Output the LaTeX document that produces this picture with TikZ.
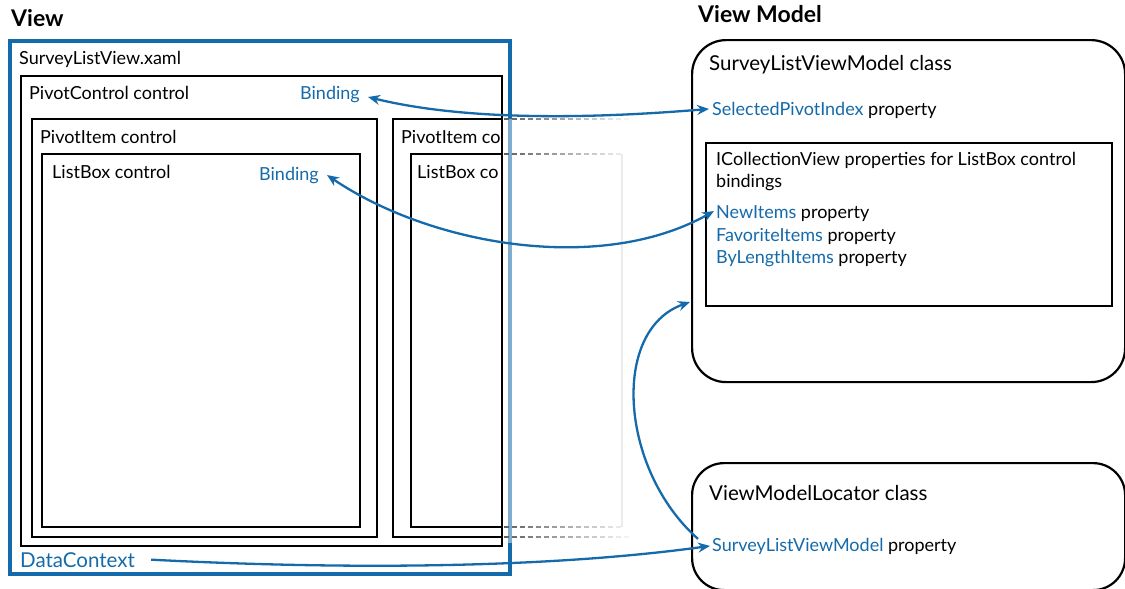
\documentclass[tikz,border=0pt]{standalone}
\usepackage{fontspec}
\setmainfont{Lato}
\usetikzlibrary{arrows.meta}
\definecolor{vblue}{RGB}{20,106,170}
\begin{document}
\begin{tikzpicture}[x=1pt,y=-1pt,
  lbl/.style={anchor=base west, inner sep=0pt, font=\fontsize{18}{21}\selectfont},
  blbl/.style={lbl, text=vblue},
  clbl/.style={lbl, font=\fontsize{20.5}{24}\selectfont},
  ttl/.style={anchor=base west, inner sep=0pt, font=\fontsize{23}{27}\selectfont\bfseries},
  ctl/.style={draw=black, line width=2.5pt},
  vbox/.style={draw=vblue, line width=3.5pt},
  rbox/.style={draw=black, line width=2.2pt, rounded corners=34pt},
  ibox/.style={draw=black, line width=2.2pt},
  arr/.style={draw=vblue, line width=2.3pt},
  tip/.style={-{Stealth[length=12pt,width=10pt,inset=4pt]}},
  bitip/.style={{Stealth[length=12pt,width=10pt,inset=4pt]}-{Stealth[length=12pt,width=10pt,inset=4pt]}},
]
\useasboundingbox (0,0) rectangle (1125,589);

% ---------- View side ----------
\node[ttl] (viewttl) at (11,26) {View};
\draw[vbox] (510,119) -- (510,41) -- (10,41) -- (10,574) -- (510,574) -- (510,543);
\draw[vbox, draw opacity=0.55] (510,119) -- (510,543);

\node[lbl] (xaml) at (19,64) {SurveyListView.xaml};

% PivotControl
\draw[ctl] (21,76) rectangle (502,546);
\node[lbl] (pcl) at (29,99) {PivotControl control};
\node[blbl] (bind1) at (300,99) {Binding};

% PivotItem 1
\draw[ctl] (32,119) rectangle (377,537);
\node[lbl] (pil) at (40,143) {PivotItem control};
% ListBox 1
\draw[ctl] (42,154) rectangle (360,527);
\node[lbl] (lbl1) at (52,178) {ListBox control};
\node[blbl] (bind2) at (259,180) {Binding};

% PivotItem 2 (fading)
\draw[ctl] (502,119) -- (393,119) -- (393,537) -- (502,537);
\draw[ctl] (502,154) -- (411,154) -- (411,527) -- (502,527);
\begin{scope}
  \clip (395,121) rectangle (500,200);
  \node[lbl] (pil2) at (401,143) {PivotItem co};
  \node[lbl] (lbl2) at (417,178) {ListBox co};
\end{scope}
\foreach \i in {0,...,15}{
  \pgfmathsetmacro\c{62-\i*3.8}
  \draw[black!\c, line width=2.2pt] ({504+\i*8},119) -- ++(5,0);
  \draw[black!\c, line width=2.2pt] ({504+\i*8},537) -- ++(5,0);
}
\foreach \i in {0,...,14}{
  \pgfmathsetmacro\c{62-\i*3.8}
  \draw[black!\c, line width=2.2pt] ({504+\i*8},154) -- ++(5,0);
  \draw[black!\c, line width=2.2pt] ({504+\i*8},527) -- ++(5,0);
}
\draw[black!8, line width=1.5pt] (622,154) -- (622,527);

\node[blbl, font=\fontsize{20.5}{24}\selectfont] (dctx) at (20,567) {DataContext};

% ---------- View Model side ----------
\node[ttl] (vmttl) at (698,23) {View Model};
\node[rbox, anchor=north west, minimum width=433pt, minimum height=342pt] (vm) at (691,39) {};
\node[clbl] (vmcls) at (709,70) {SurveyListViewModel class};
\node[lbl] (selidx) at (712,115) {\textcolor{vblue}{SelectedPivotIndex} property};

\node[ibox, anchor=north west, minimum width=406pt, minimum height=163pt] (icv) at (705,142) {};
\node[lbl] (icvl1) at (716,165) {ICollectionView properties for ListBox control};
\node[lbl] (icvl2) at (716,187) {bindings};
\node[lbl] (newit) at (716,218) {\textcolor{vblue}{NewItems} property};
\node[lbl] (favit) at (716,241) {\textcolor{vblue}{FavoriteItems} property};
\node[lbl] (bylen) at (716,263) {\textcolor{vblue}{ByLengthItems} property};

\node[rbox, rounded corners=32pt, anchor=north west, minimum width=433pt, minimum height=127pt] (loc) at (691,462) {};
\node[clbl] (loccls) at (709,500) {ViewModelLocator class};
\node[lbl] (slvm) at (712,551) {\textcolor{vblue}{SurveyListViewModel} property};

\coordinate (vmin) at (690,302);

% ---------- connectors ----------
\draw[arr, bitip] ([shift={(8,3)}]bind1.east) .. controls (470,122) and (600,118) .. ([shift={(-3,-1)}]selidx.west);
\draw[arr, bitip] ([shift={(8,0)}]bind2.east) .. controls (430,245) and (600,275) .. ([shift={(-2,-2)}]newit.west);
\draw[arr, tip] ([xshift=16pt]dctx.east) .. controls (350,570) and (550,568) .. ([xshift=-2pt]slvm.west);
\draw[arr, tip] ([shift={(-14,-7)}]slvm.west) .. controls (620,470) and (610,330) .. (vmin);
\end{tikzpicture}
\end{document}
